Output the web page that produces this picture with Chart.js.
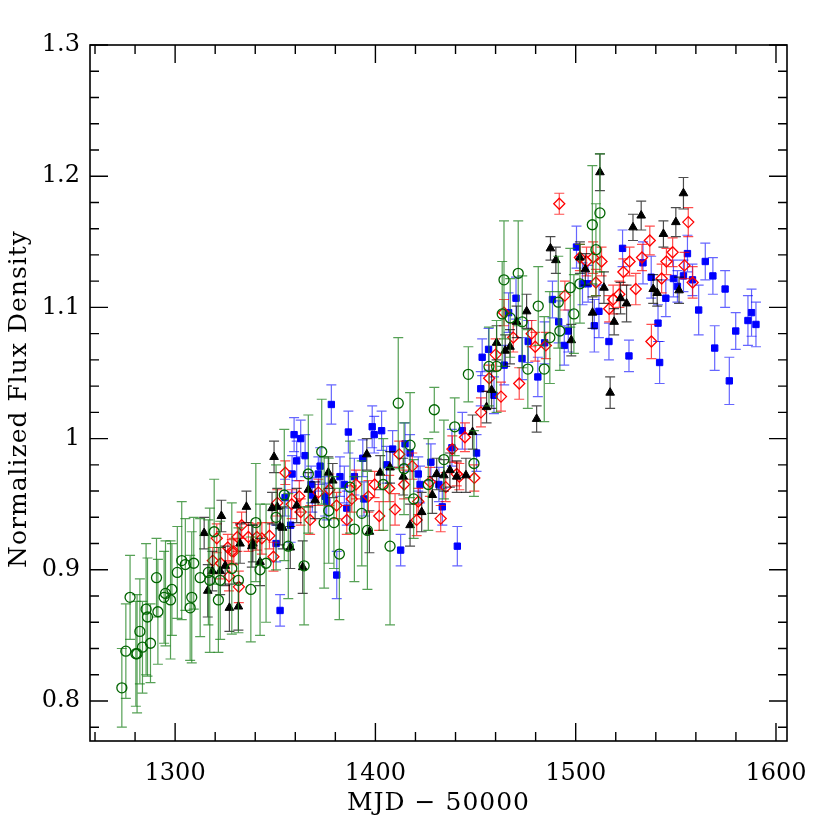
<!DOCTYPE html>
<html>
<head>
<meta charset="utf-8">
<script src="https://cdn.jsdelivr.net/npm/chart.js@4.4.1/dist/chart.umd.min.js"></script>
<style>
    html, body { margin: 0; padding: 0; background: #ffffff; }
    #wrap { width: 830px; height: 830px; }
</style>
</head>
<body>
<div id="wrap"><canvas id="fluxChart" width="830" height="830"></canvas></div>
<script>
// Green open circles
const greenMjd = [1273.4,1275.4,1277.5,1280.4,1281.0,1282.4,1283.7,1285.5,1286.2,1287.7,1290.7,1291.4,1294.5,1295.2,1297.7,1298.4,1301.1,1303.3,1305.1,1307.5,1308.3,1309.3,1312.5,1316.6,1317.3,1319.5,1321.6,1322.5,1328.3,1331.6,1337.8,1340.3,1342.4,1345.4,1350.4,1354.5,1356.5,1364.4,1366.5,1373.2,1374.4,1376.7,1379.3,1382.0,1387.3,1389.5,1393.2,1396.0,1403.9,1407.3,1411.4,1414.3,1417.3,1419.1,1426.4,1429.4,1434.2,1439.6,1446.4,1449.2,1456.7,1460.5,1463.3,1464.2,1467.3,1471.3,1473.3,1476.1,1481.3,1484.3,1487.1,1491.3,1492.1,1497.3,1499.1,1502.1,1508.3,1510.1,1512.1];
const greenFlux = [0.810,0.838,0.879,0.836,0.836,0.853,0.841,0.870,0.864,0.844,0.894,0.868,0.879,0.882,0.877,0.885,0.898,0.907,0.904,0.871,0.879,0.905,0.894,0.898,0.892,0.929,0.877,0.892,0.901,0.892,0.885,0.936,0.900,0.905,0.940,0.957,0.918,0.903,0.973,0.990,0.936,0.945,0.936,0.912,0.963,0.931,0.943,0.930,0.965,0.918,1.027,0.977,0.995,0.954,0.965,1.022,0.984,1.009,1.049,0.981,1.055,1.055,1.095,1.121,1.092,1.126,1.089,1.053,1.101,1.053,1.077,1.104,1.082,1.115,1.095,1.118,1.163,1.144,1.172];
const greenErr = [0.030,0.036,0.032,0.040,0.045,0.040,0.035,0.050,0.045,0.030,0.030,0.040,0.035,0.040,0.045,0.035,0.035,0.045,0.035,0.040,0.050,0.035,0.045,0.040,0.055,0.040,0.040,0.045,0.050,0.040,0.040,0.045,0.050,0.045,0.040,0.050,0.040,0.045,0.045,0.040,0.050,0.040,0.035,0.050,0.035,0.040,0.040,0.045,0.035,0.060,0.050,0.035,0.040,0.030,0.035,0.017,0.030,0.022,0.021,0.025,0.030,0.035,0.040,0.045,0.030,0.040,0.035,0.030,0.030,0.040,0.035,0.035,0.030,0.030,0.030,0.030,0.045,0.035,0.045];

// Black filled triangles
const blackMjd = [1314.5,1316.3,1318.6,1322.5,1323.1,1325.0,1327.1,1331.6,1332.4,1335.6,1338.3,1338.8,1342.4,1348.4,1349.4,1351.0,1352.4,1353.7,1357.5,1360.7,1363.7,1366.5,1369.9,1376.5,1378.7,1395.7,1397.0,1402.4,1407.3,1413.9,1417.3,1423.1,1428.4,1430.6,1434.2,1437.2,1440.6,1445.2,1448.5,1455.5,1458.0,1460.5,1464.8,1467.2,1470.5,1475.5,1480.5,1487.4,1490.1,1497.8,1502.1,1504.8,1508.4,1512.1,1514.1,1517.2,1519.2,1522.4,1525.4,1528.6,1532.7,1538.7,1540.7,1543.8,1550.0,1551.6,1553.8];
const blackFlux = [0.928,0.884,0.899,0.899,0.941,0.903,0.871,0.872,0.920,0.948,0.918,0.920,0.906,0.947,0.986,0.948,0.933,0.932,0.917,0.949,0.902,0.961,0.953,0.974,0.968,0.988,0.929,0.974,0.978,0.971,0.934,0.944,0.957,0.973,0.972,0.976,0.971,0.972,1.005,1.024,1.037,1.073,1.067,1.070,1.089,1.097,1.015,1.145,1.136,1.075,1.138,1.129,1.096,1.203,1.115,1.035,1.089,1.107,1.103,1.161,1.170,1.114,1.111,1.156,1.165,1.113,1.187];
const blackErr = [0.012,0.020,0.015,0.018,0.012,0.015,0.018,0.018,0.015,0.012,0.016,0.014,0.018,0.012,0.012,0.014,0.014,0.016,0.016,0.013,0.020,0.013,0.014,0.012,0.013,0.012,0.016,0.013,0.012,0.014,0.016,0.015,0.014,0.012,0.012,0.013,0.012,0.013,0.013,0.012,0.014,0.013,0.012,0.013,0.012,0.013,0.010,0.009,0.010,0.012,0.012,0.012,0.012,0.014,0.012,0.012,0.010,0.012,0.014,0.010,0.011,0.011,0.010,0.010,0.011,0.010,0.012];

// Red open diamonds
const redMjd = [1318.8,1320.8,1322.8,1326.3,1326.9,1328.3,1329.3,1331.1,1331.8,1333.2,1336.6,1340.8,1343.3,1347.1,1349.1,1351.0,1355.0,1358.2,1362.0,1362.7,1367.4,1371.5,1377.0,1380.6,1385.7,1388.2,1390.3,1396.5,1399.6,1401.9,1406.9,1409.8,1411.9,1414.3,1418.4,1420.6,1421.4,1427.2,1432.6,1435.1,1438.4,1440.6,1441.9,1444.7,1449.4,1452.7,1456.8,1460.0,1462.7,1464.2,1468.8,1471.8,1478.0,1479.8,1485.1,1491.8,1494.6,1502.1,1505.4,1508.7,1510.1,1512.9,1516.7,1518.7,1521.8,1523.8,1526.9,1530.0,1533.1,1537.0,1537.8,1542.9,1545.3,1548.4,1554.3,1556.2,1558.4];
const redFlux = [0.907,0.924,0.905,0.917,0.895,0.914,0.914,0.925,0.887,0.934,0.925,0.925,0.924,0.926,0.910,0.951,0.974,0.950,0.956,0.944,0.938,0.959,0.961,0.949,0.938,0.954,0.965,0.956,0.965,0.941,0.962,0.946,0.988,0.965,0.979,0.938,0.952,0.967,0.939,0.963,0.992,0.973,0.971,1.001,0.970,1.020,1.046,1.064,1.032,1.096,1.077,1.042,1.080,1.070,1.071,1.179,1.109,1.138,1.135,1.138,1.119,1.135,1.099,1.106,1.110,1.127,1.135,1.114,1.138,1.151,1.074,1.122,1.135,1.142,1.132,1.165,1.119];
const redErr = [0.010,0.011,0.012,0.010,0.011,0.009,0.010,0.011,0.012,0.010,0.011,0.010,0.012,0.010,0.011,0.010,0.009,0.011,0.012,0.010,0.011,0.010,0.012,0.010,0.011,0.010,0.011,0.012,0.010,0.011,0.010,0.012,0.010,0.011,0.010,0.012,0.010,0.011,0.010,0.011,0.010,0.009,0.010,0.011,0.010,0.011,0.010,0.012,0.011,0.010,0.011,0.012,0.010,0.011,0.010,0.008,0.011,0.010,0.011,0.012,0.010,0.011,0.010,0.011,0.010,0.010,0.011,0.012,0.010,0.011,0.013,0.011,0.010,0.011,0.010,0.011,0.012];

// Blue filled squares
const blueMjd = [1350.4,1352.4,1354.9,1357.7,1358.4,1359.4,1360.7,1362.7,1364.9,1367.9,1368.5,1371.5,1372.4,1374.9,1375.7,1378.0,1380.7,1382.3,1384.5,1385.7,1386.5,1389.5,1393.7,1394.3,1398.4,1399.4,1403.1,1405.6,1408.6,1412.6,1414.8,1417.3,1421.4,1422.3,1427.7,1431.7,1433.4,1438.2,1440.9,1443.4,1450.5,1452.6,1453.3,1456.5,1459.2,1464.3,1466.5,1470.2,1473.2,1476.3,1481.1,1484.5,1488.4,1491.5,1494.3,1496.3,1500.4,1503.4,1506.2,1509.3,1511.6,1516.6,1523.4,1526.6,1533.6,1537.7,1541.1,1541.9,1545.0,1548.8,1550.8,1553.8,1555.8,1558.3,1561.4,1564.7,1568.5,1569.4,1574.6,1576.7,1579.9,1586.0,1587.8,1590.0];
const blueFlux = [0.920,0.869,0.955,0.934,0.973,1.003,0.983,1.000,0.987,0.965,0.957,0.973,0.979,0.956,0.952,1.026,0.896,0.971,0.965,0.947,1.005,0.971,0.985,0.954,1.009,1.003,1.006,0.980,0.992,0.915,0.996,0.989,0.973,0.965,0.982,0.965,0.948,0.993,0.918,1.006,0.989,1.038,1.062,1.068,1.033,1.056,1.096,1.107,1.061,1.074,1.047,1.073,1.106,1.089,1.071,1.082,1.146,1.118,1.118,1.086,1.097,1.074,1.145,1.063,1.134,1.123,1.088,1.058,1.107,1.122,1.116,1.124,1.141,1.121,1.098,1.135,1.124,1.069,1.114,1.044,1.082,1.090,1.096,1.087];
const blueErr = [0.014,0.012,0.014,0.013,0.014,0.013,0.015,0.014,0.016,0.014,0.013,0.013,0.014,0.015,0.014,0.015,0.018,0.015,0.014,0.013,0.016,0.014,0.014,0.013,0.016,0.014,0.015,0.014,0.014,0.012,0.016,0.014,0.013,0.014,0.014,0.013,0.014,0.014,0.015,0.014,0.014,0.013,0.014,0.016,0.014,0.015,0.015,0.016,0.016,0.016,0.015,0.016,0.014,0.016,0.015,0.016,0.016,0.016,0.014,0.020,0.020,0.014,0.014,0.012,0.016,0.016,0.014,0.016,0.014,0.014,0.012,0.012,0.014,0.012,0.019,0.014,0.014,0.017,0.014,0.018,0.014,0.019,0.018,0.017];

// Axes
const xRange = [1257.5, 1605.5];
const yRange = [0.7695, 1.3];
const xTickValues = [1300, 1400, 1500, 1600];
const xTickLabels = ['1300', '1400', '1500', '1600'];
const yTickValues = [0.8, 0.9, 1.0, 1.1, 1.2, 1.3];
const yTickLabels = ['0.8', '0.9', '1', '1.1', '1.2', '1.3'];
const xTitle = 'MJD \u2212 50000';
const yTitle = 'Normalized Flux Density';

const FONT = '"DejaVu Serif", serif';

function toPoints(xs, ys) {
    return xs.map((x, i) => ({ x: x, y: ys[i] }));
}

// draws each series' error bars right before its markers
const errorBarPlugin = {
    id: 'errorBars',
    beforeDatasetDraw(chart, args) {
        const ds = chart.data.datasets[args.index];
        if (!ds.errs) return;
        const ctx = chart.ctx;
        const xs = chart.scales.x, ys = chart.scales.y;
        ctx.save();
        ctx.strokeStyle = ds.barColor;
        ctx.lineWidth = 1.2;
        ds.data.forEach((p, i) => {
            const px = xs.getPixelForValue(p.x);
            const top = ys.getPixelForValue(p.y + ds.errs[i]);
            const bot = ys.getPixelForValue(p.y - ds.errs[i]);
            ctx.beginPath();
            ctx.moveTo(px, top); ctx.lineTo(px, bot);
            ctx.moveTo(px - 5, top); ctx.lineTo(px + 5, top);
            ctx.moveTo(px - 5, bot); ctx.lineTo(px + 5, bot);
            ctx.stroke();
        });
        ctx.restore();
    }
};

// frame, inward ticks on all sides, labels
const framePlugin = {
    id: 'frame',
    afterDraw(chart) {
        const ctx = chart.ctx;
        const a = chart.chartArea;
        const xs = chart.scales.x, ys = chart.scales.y;
        ctx.save();
        ctx.strokeStyle = '#000';
        ctx.lineWidth = 1.6;
        ctx.strokeRect(a.left, a.top, a.right - a.left, a.bottom - a.top);

        ctx.lineWidth = 1.4;
        ctx.beginPath();
        for (let v = 1260; v <= xRange[1]; v += 20) {
            const px = xs.getPixelForValue(v);
            const len = (v % 100 === 0) ? 18 : 9;
            ctx.moveTo(px, a.bottom); ctx.lineTo(px, a.bottom - len);
            ctx.moveTo(px, a.top); ctx.lineTo(px, a.top + len);
        }
        for (let k = 39; k <= 65; k++) {
            const v = k * 0.02;
            if (v < yRange[0] || v > yRange[1] + 1e-9) continue;
            const py = ys.getPixelForValue(v);
            const len = (k % 5 === 0) ? 18 : 9;
            ctx.moveTo(a.left, py); ctx.lineTo(a.left + len, py);
            ctx.moveTo(a.right, py); ctx.lineTo(a.right - len, py);
        }
        ctx.stroke();

        ctx.fillStyle = '#000';
        ctx.font = '24px ' + FONT;
        ctx.textAlign = 'right';
        ctx.textBaseline = 'middle';
        yTickValues.forEach((v, i) => {
            ctx.fillText(yTickLabels[i], a.left - 10, ys.getPixelForValue(v));
        });
        ctx.textAlign = 'center';
        ctx.textBaseline = 'alphabetic';
        xTickValues.forEach((v, i) => {
            ctx.fillText(xTickLabels[i], xs.getPixelForValue(v), a.bottom + 39);
        });
        ctx.font = '25px ' + FONT;
        ctx.letterSpacing = '1px';
        ctx.fillText(xTitle, (a.left + a.right) / 2, a.bottom + 69);

        ctx.translate(26, (a.top + a.bottom) / 2 + 6);
        ctx.rotate(-Math.PI / 2);
        ctx.fillText(yTitle, 0, 0);
        ctx.restore();
    }
};

document.addEventListener('DOMContentLoaded', function() {
    const ctx = document.getElementById('fluxChart');
    new Chart(ctx, {
        type: 'scatter',
        data: {
            datasets: [
                {
                    data: toPoints(greenMjd, greenFlux),
                    errs: greenErr,
                    barColor: 'rgba(30,130,30,0.75)',
                    pointStyle: 'circle',
                    pointRadius: 5,
                    borderColor: '#006400',
                    backgroundColor: 'rgba(0,0,0,0)',
                    borderWidth: 1.3
                },
                {
                    data: toPoints(blackMjd, blackFlux),
                    errs: blackErr,
                    barColor: 'rgba(0,0,0,0.7)',
                    pointStyle: 'triangle',
                    pointRadius: 5,
                    borderColor: '#000',
                    backgroundColor: '#000',
                    borderWidth: 1
                },
                {
                    data: toPoints(redMjd, redFlux),
                    errs: redErr,
                    barColor: 'rgba(255,0,0,0.7)',
                    pointStyle: 'rectRot',
                    pointRadius: 5.5,
                    borderColor: '#ff0000',
                    backgroundColor: 'rgba(0,0,0,0)',
                    borderWidth: 1.3
                },
                {
                    data: toPoints(blueMjd, blueFlux),
                    errs: blueErr,
                    barColor: 'rgba(0,0,255,0.6)',
                    pointStyle: 'rect',
                    pointRadius: 4.5,
                    borderColor: '#0000ff',
                    backgroundColor: '#0000ff',
                    borderWidth: 1
                }
            ]
        },
        options: {
            responsive: false,
            animation: false,
            layout: { padding: { left: 90, top: 45, right: 43, bottom: 89 } },
            plugins: {
                legend: { display: false },
                tooltip: { enabled: false }
            },
            scales: {
                x: { type: 'linear', min: xRange[0], max: xRange[1], display: false },
                y: { type: 'linear', min: yRange[0], max: yRange[1], display: false }
            }
        },
        plugins: [errorBarPlugin, framePlugin]
    });
});
</script>
</body>
</html>
